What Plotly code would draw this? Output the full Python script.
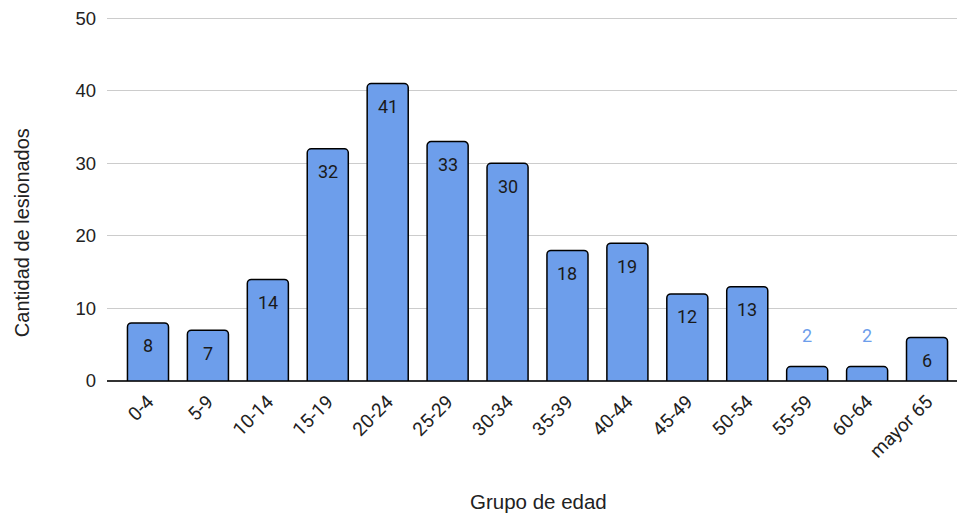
import plotly.graph_objects as go

categories = ["0-4", "5-9", "10-14", "15-19", "20-24", "25-29", "30-34", "35-39",
              "40-44", "45-49", "50-54", "55-59", "60-64", "mayor 65"]
values = [8, 7, 14, 32, 41, 33, 30, 18, 19, 12, 13, 2, 2, 6]
y_ticks = [0, 10, 20, 30, 40, 50]
x_title = "Grupo de edad"
y_title = "Cantidad de lesionados"

bar_color = "#6d9eeb"
axis_font = "Liberation Sans, Arial, sans-serif"

fig = go.Figure()
fig.add_trace(go.Bar(
    x=categories, y=values,
    marker=dict(color=bar_color, line=dict(color="#000000", width=1.5), cornerradius=4),
    width=0.685,
    hoverinfo="x+y",
))

annotations = []
for c, v in zip(categories, values):
    small = v < 4
    annotations.append(dict(
        x=c, y=v, xref="x", yref="y", text=str(v), showarrow=False,
        yshift=31 if small else -23,
        font=dict(family="Roboto, Arial, sans-serif", size=18,
                  color=bar_color if small else "#1a1a1a"),
    ))

annotations.append(dict(
    text=x_title, xref="paper", yref="paper", x=0.508, y=-0.33,
    xanchor="center", yanchor="middle", showarrow=False,
    font=dict(family=axis_font, size=20.5, color="#222222"),
))
annotations.append(dict(
    text=y_title, xref="paper", yref="paper", x=-0.1, y=0.405,
    xanchor="center", yanchor="middle", showarrow=False, textangle=-90,
    font=dict(family=axis_font, size=20, color="#222222"),
))

fig.update_layout(
    width=957, height=515,
    margin=dict(l=107, r=0, t=15.5, b=134),
    plot_bgcolor="white", paper_bgcolor="white",
    showlegend=False,
    annotations=annotations,
    xaxis=dict(
        range=[-0.684, 13.5],
        automargin=False,
        tickangle=-45,
        tickfont=dict(family="Roboto, Arial, sans-serif", size=19, color="#222222"),
        ticklabelstandoff=5,
        showgrid=False,
        showline=False,
        ticks="",
    ),
    yaxis=dict(
        range=[0, 50.3],
        automargin=False,
        tickvals=y_ticks,
        tickfont=dict(family=axis_font, size=18.5, color="#222222"),
        ticklabelstandoff=10,
        gridcolor="#cccccc", gridwidth=1.3,
        zeroline=True, zerolinecolor="#333333", zerolinewidth=1.5,
        ticks="", ticklen=0,
    ),
)

fig.write_html(
    "out.html",
    config={"displayModeBar": False},
    post_script="document.body.style.margin='0';document.body.style.overflow='hidden';",
)
